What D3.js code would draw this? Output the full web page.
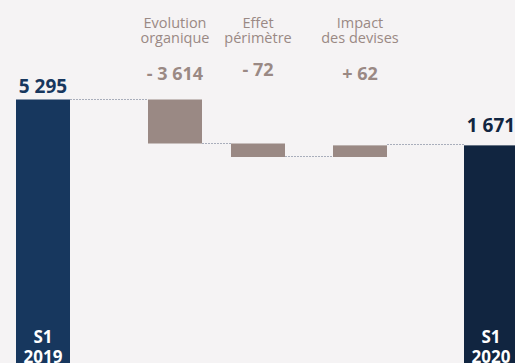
<!DOCTYPE html>
<html>
<head>
<meta charset="utf-8">
<script src="https://cdn.jsdelivr.net/npm/d3@7"></script>
<style>
  html, body { margin: 0; padding: 0; background: #f5f3f4; }
  #chart { width: 515px; height: 363px; overflow: hidden; }
  svg { display: block; font-family: 'Open Sans', sans-serif; }
</style>
</head>
<body>
<div id="chart"></div>
<script>
// waterfall S1 2019 -> S1 2020
const categories = ['S1 2019', 'Evolution organique', 'Effet périmètre', 'Impact des devises', 'S1 2020'];
const labelLines = [['S1', '2019'], ['Evolution', 'organique'], ['Effet', 'périmètre'], ['Impact', 'des devises'], ['S1', '2020']];
const kinds = ['total', 'delta', 'delta', 'delta', 'total'];
const values = [5295, -3614, -72, 62, 1671];
const valueLabels = ['5 295', '- 3 614', '- 72', '+ 62', '1 671'];

//_____ LAYOUT _____
const W = 515, H = 363;
const barWidth = 54;
const centers = [43, 175, 258, 360, 491]; // hand-placed columns, as in the slide
const colors = { start: '#17375e', end: '#112540', delta: '#9a8984', text: '#9a8984', line: '#a9aebb' };

//_____ CUMULATIVE LEVELS _____
let running = 0;
const steps = values.map((v, i) => {
  let from, to;
  if (kinds[i] === 'total') { from = 0; to = v; running = v; }
  else { from = running; to = running + v; running = to; }
  return { cat: categories[i], kind: kinds[i], value: v, from, to, i };
});

//_____ SCALES _____
const x = d3.scaleOrdinal().domain(categories).range(centers);

// broken axis: the small moves are blown up, the big totals squeezed
const midLevels = steps.slice(1, 4).map(d => d.to);
const y = d3.scaleLinear()
  .domain([0, d3.min(midLevels), d3.max(midLevels), values[0]])
  .range([420, 157, 143.5, 99.5]);

//_____ SVG _____
const svg = d3.select('#chart').append('svg')
  .attr('width', W).attr('height', H);

svg.append('rect').attr('width', W).attr('height', H).attr('fill', '#f5f3f4');

//>>> connectors
svg.selectAll('line.conn')
  .data(steps.slice(0, -1))
  .enter().append('line')
  .attr('class', 'conn')
  .attr('x1', d => x(d.cat) + barWidth / 2)
  .attr('x2', d => x(categories[d.i + 1]) - barWidth / 2)
  .attr('y1', d => Math.round(y(d.to)) - 0.5)
  .attr('y2', d => Math.round(y(d.to)) - 0.5)
  .attr('stroke', colors.line)
  .attr('stroke-width', 1)
  .attr('stroke-dasharray', '2,1');

//>>> bars
svg.selectAll('rect.bar')
  .data(steps)
  .enter().append('rect')
  .attr('class', 'bar')
  .attr('x', d => x(d.cat) - barWidth / 2)
  .attr('y', d => y(Math.max(d.from, d.to)))
  .attr('width', barWidth)
  .attr('height', d => Math.abs(y(d.from) - y(d.to)))
  .attr('fill', d => d.kind === 'delta' ? colors.delta : (d.i === 0 ? colors.start : colors.end));

//>>> total value labels above bars
const totals = steps.filter(d => d.kind === 'total');
svg.selectAll('text.total')
  .data(totals)
  .enter().append('text')
  .attr('class', 'total')
  .attr('x', d => x(d.cat))
  .attr('y', d => y(d.to) - (d.i === 0 ? 7 : 13))
  .attr('text-anchor', 'middle')
  .style('font-size', '19px')
  .style('font-weight', 700)
  .attr('fill', d => d.i === 0 ? colors.start : colors.end)
  .text(d => valueLabels[d.i]);

//>>> S1 / year inside total bars
totals.forEach(d => {
  const t = svg.append('text')
    .attr('x', x(d.cat))
    .attr('text-anchor', 'middle')
    .style('font-size', '17px')
    .style('font-weight', 700)
    .attr('fill', '#ffffff');
  labelLines[d.i].forEach((ln, k) => {
    t.append('tspan').attr('x', x(d.cat)).attr('y', 343 + k * 20).text(ln);
  });
});

//>>> delta headers + values
const deltas = steps.filter(d => d.kind === 'delta');
deltas.forEach(d => {
  const t = svg.append('text')
    .attr('x', x(d.cat))
    .attr('text-anchor', 'middle')
    .style('font-size', '14.5px')
    .attr('fill', colors.text);
  labelLines[d.i].forEach((ln, k) => {
    t.append('tspan').attr('x', x(d.cat)).attr('y', 28 + k * 15).text(ln);
  });
});

svg.selectAll('text.delta')
  .data(deltas)
  .enter().append('text')
  .attr('class', 'delta')
  .attr('x', d => x(d.cat))
  .attr('y', d => d.value === -72 ? 76 : 80)
  .attr('text-anchor', 'middle')
  .style('font-size', '18px')
  .style('font-weight', 700)
  .attr('fill', colors.text)
  .text(d => valueLabels[d.i]);
</script>
</body>
</html>
